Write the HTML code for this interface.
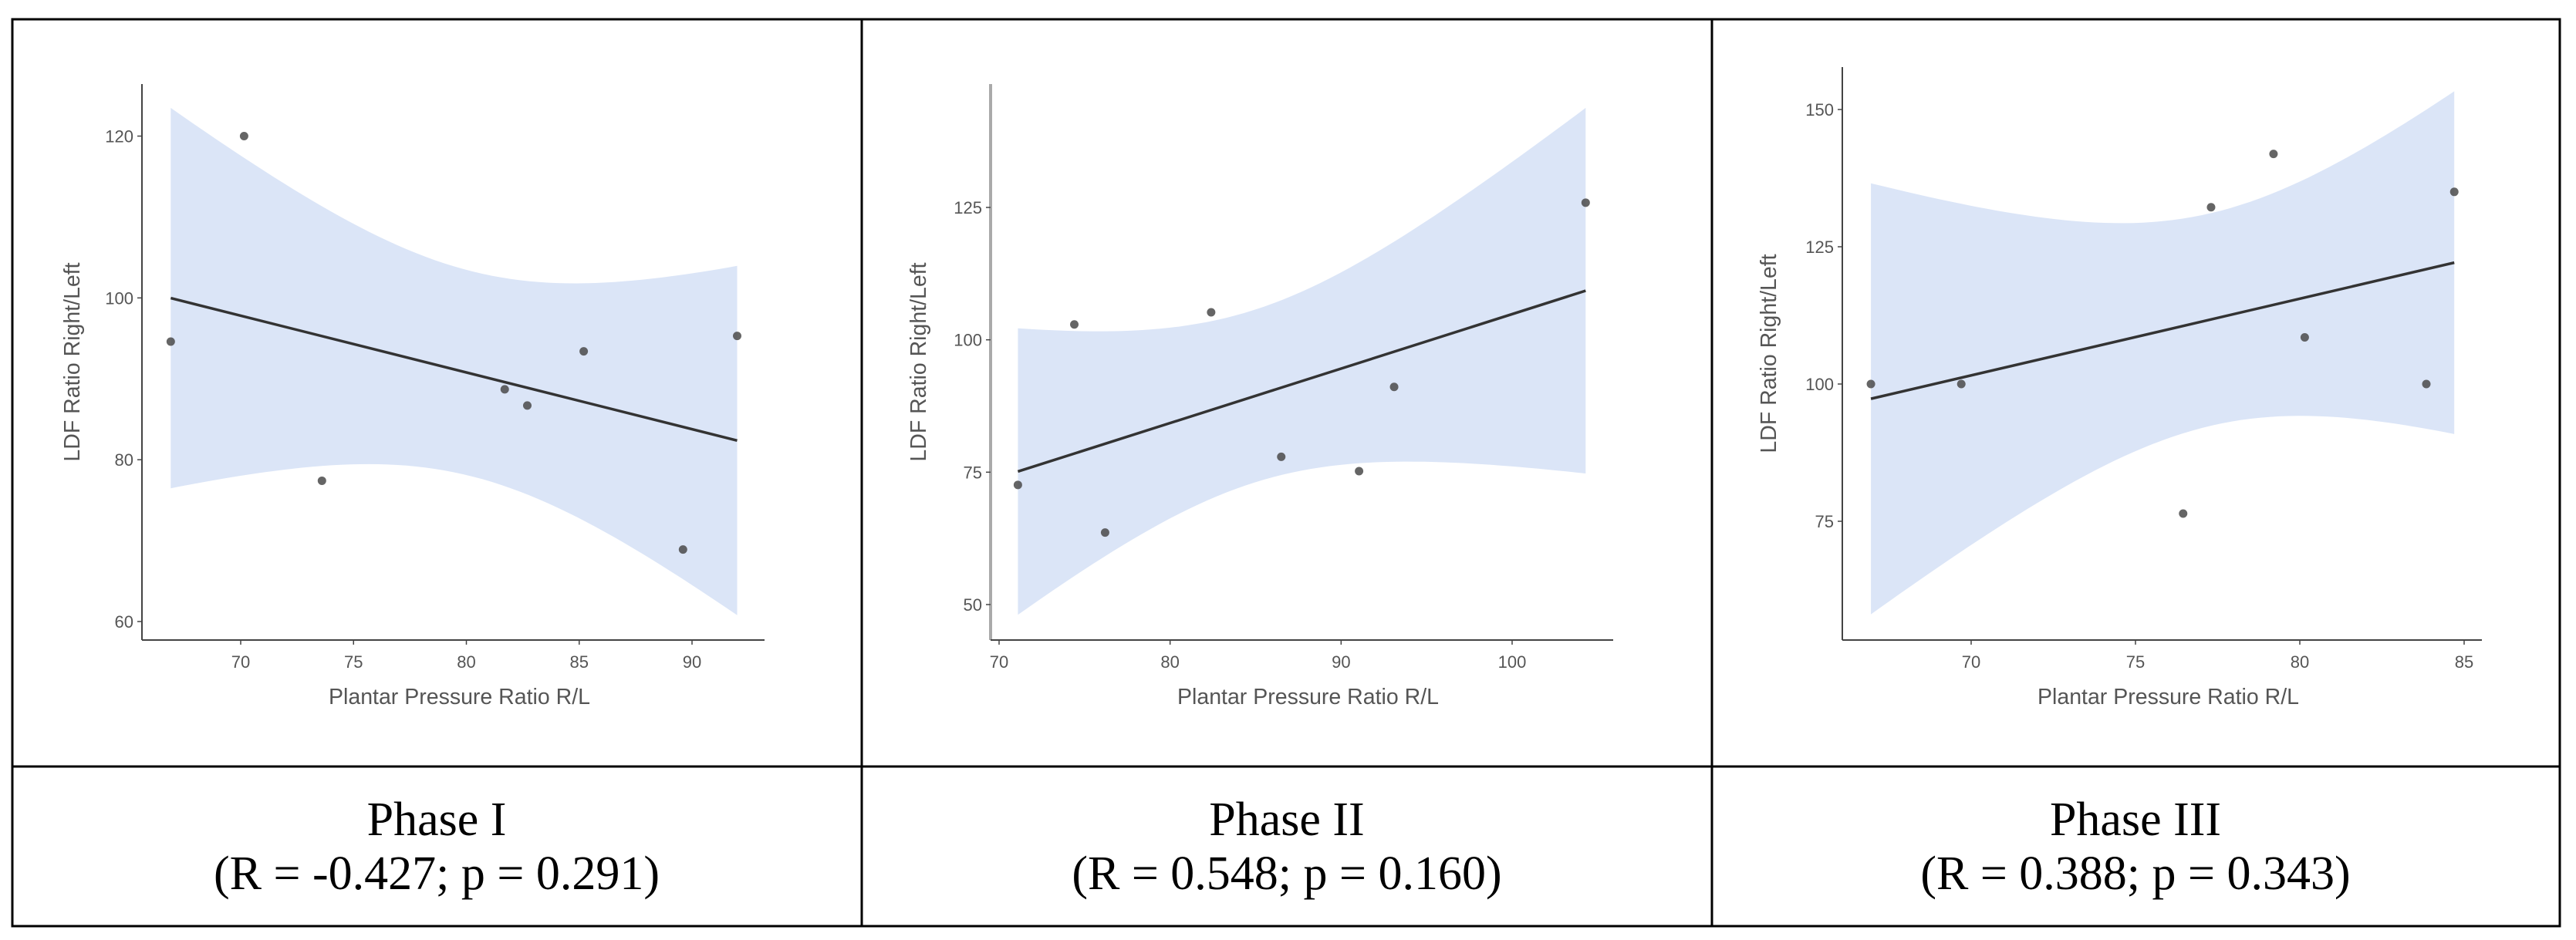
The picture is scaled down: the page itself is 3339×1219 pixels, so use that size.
<!DOCTYPE html>
<html><head><meta charset="utf-8">
<style>
html,body{margin:0;padding:0;background:#fff;}
svg{display:block;}
.tick{font-family:"Liberation Sans",sans-serif;font-size:22px;fill:#555;}
.atitle{font-family:"Liberation Sans",sans-serif;font-size:28.5px;fill:#555;}
.cap{font-family:"Liberation Serif",serif;font-size:62px;fill:#000;}
</style></head>
<body>
<svg id="fig" width="3339" height="1219" viewBox="0 0 3339 1219" xmlns="http://www.w3.org/2000/svg">
<rect x="0" y="0" width="3339" height="1219" fill="#fff"/>
<g id="frame" stroke="#000" stroke-width="3" fill="none">
<rect x="16" y="25" width="3302" height="1176"/>
<line x1="16" y1="994" x2="3318" y2="994"/>
<line x1="1117" y1="25" x2="1117" y2="1201"/>
<line x1="2219" y1="25" x2="2219" y2="1201"/>
</g>
<text class="cap" x="566" y="1083" text-anchor="middle">Phase I</text>
<text class="cap" x="566" y="1153" text-anchor="middle">(R = -0.427; p = 0.291)</text>
<text class="cap" x="1668" y="1083" text-anchor="middle">Phase II</text>
<text class="cap" x="1668" y="1153" text-anchor="middle">(R = 0.548; p = 0.160)</text>
<text class="cap" x="2768" y="1083" text-anchor="middle">Phase III</text>
<text class="cap" x="2768" y="1153" text-anchor="middle">(R = 0.388; p = 0.343)</text>
</svg>
<script>
// Phase I data
const p1X = [66.9, 70.15, 73.6, 81.7, 82.7, 85.2, 89.6, 92.0];
const p1Y = [94.6, 120.0, 77.4, 88.7, 86.7, 93.4, 68.9, 95.3];
const p1XTicks = [70, 75, 80, 85, 90];
const p1YTicks = [60, 80, 100, 120];
// Phase II data
const p2X = [71.1, 74.4, 76.2, 82.4, 86.5, 91.05, 93.1, 104.3];
const p2Y = [72.6, 102.9, 63.6, 105.2, 77.9, 75.2, 91.1, 125.9];
const p2XTicks = [70, 80, 90, 100];
const p2YTicks = [50, 75, 100, 125];
// Phase III data
const p3X = [66.95, 69.7, 76.45, 77.3, 79.2, 80.15, 83.85, 84.7];
const p3Y = [100.0, 100.0, 76.4, 132.2, 141.9, 108.5, 100.0, 135.0];
const p3XTicks = [70, 75, 80, 85];
const p3YTicks = [75, 100, 125, 150];

const NS = "http://www.w3.org/2000/svg";
const svg = document.getElementById('fig');
function mk(tag, attrs, parent){const e=document.createElementNS(NS,tag);for(const k in attrs)e.setAttribute(k,attrs[k]);(parent||svg).appendChild(e);return e;}

const layouts = [
 {ax:184, top:109, bot:830, right:991, xa:[70,312], xb:[90,897], ya:[120,176.5], yb:[60,806], ytx:103, dark:false},
 {ax:1284, top:109, bot:830, right:2091, xa:[70,1295], xb:[100,1960], ya:[125,269], yb:[50,784], ytx:1200, dark:true},
 {ax:2388, top:87, bot:830, right:3217, xa:[70,2555], xb:[85,3194], ya:[150,142], yb:[75,676], ytx:2302, dark:false}
];
const datasets = [[p1X,p1Y,p1XTicks,p1YTicks],[p2X,p2Y,p2XTicks,p2YTicks],[p3X,p3Y,p3XTicks,p3YTicks]];

datasets.forEach((d,i)=>{
  const [X,Y,XT,YT]=d; const L=layouts[i];
  const sx=v=>L.xa[1]+(v-L.xa[0])*(L.xb[1]-L.xa[1])/(L.xb[0]-L.xa[0]);
  const sy=v=>L.ya[1]+(v-L.ya[0])*(L.yb[1]-L.ya[1])/(L.yb[0]-L.ya[0]);
  const g=mk('g',{});
  
  
  const n=X.length, mx=X.reduce((a,b)=>a+b)/n, my=Y.reduce((a,b)=>a+b)/n;
  let sxx=0,sxy=0;for(let k=0;k<n;k++){sxx+=(X[k]-mx)**2;sxy+=(X[k]-mx)*(Y[k]-my);}
  const b=sxy/sxx,a=my-b*mx;
  let sse=0;for(let k=0;k<n;k++)sse+=(Y[k]-a-b*X[k])**2;
  const s=Math.sqrt(sse/(n-2)), t=2.447;
  const x0=Math.min(...X), x1=Math.max(...X);
  const up=[],lo=[];
  for(let k=0;k<=60;k++){const x=x0+(x1-x0)*k/60;const f=a+b*x;const h=t*s*Math.sqrt(1/n+(x-mx)**2/sxx);up.push([sx(x),sy(f+h)]);lo.push([sx(x),sy(f-h)]);}
  const pts=up.concat(lo.reverse()).map(p=>p[0].toFixed(1)+','+p[1].toFixed(1)).join(' ');
  const band=mk('polygon',{points:pts,fill:'#dbe5f7'},g);
  
  
  const ln=mk('line',{x1:sx(x0),y1:sy(a+b*x0),x2:sx(x1),y2:sy(a+b*x1),stroke:'#333',"stroke-width":3.5},g);
  
  
  const axc=L.dark?'#aaa':'#444', aw=L.dark?4:2;
  const ya=mk('line',{x1:L.ax,y1:L.top,x2:L.ax,y2:L.bot,stroke:axc,"stroke-width":aw},g);
  
  
  const xa=mk('line',{x1:L.ax,y1:L.bot,x2:L.right,y2:L.bot,stroke:'#444',"stroke-width":2},g);
  
  
  XT.forEach(v=>{
    mk('line',{x1:sx(v),y1:L.bot,x2:sx(v),y2:L.bot+6,stroke:'#444',"stroke-width":1.5},g);
    const tx=mk('text',{x:sx(v),y:L.bot+36,class:'tick',"text-anchor":'middle'},g);
    tx.textContent=v;
    
    
  });
  YT.forEach(v=>{
    mk('line',{x1:L.ax-6,y1:sy(v),x2:L.ax,y2:sy(v),stroke:'#444',"stroke-width":1.5},g);
    const tx=mk('text',{x:L.ax-11,y:sy(v)+8,class:'tick',"text-anchor":'end'},g);
    tx.textContent=v;
    
    
  });
  const xt=mk('text',{x:(L.ax+L.right)/2+8,y:913,class:'atitle',"text-anchor":'middle'},g);
  xt.textContent='Plantar Pressure Ratio R/L';
  
  
  const cy=(L.top+L.bot)/2;
  const yt=mk('text',{x:L.ytx,y:cy,class:'atitle',"text-anchor":'middle',transform:`rotate(-90 ${L.ytx} ${cy})`},g);
  yt.textContent='LDF Ratio Right/Left';
  
  
  for(let k=0;k<n;k++){
    const c=mk('circle',{cx:sx(X[k]),cy:sy(Y[k]),r:5.5,fill:'#4a4a4a',"fill-opacity":0.85},g);
    
    
  }
});
</script>
</body></html>
